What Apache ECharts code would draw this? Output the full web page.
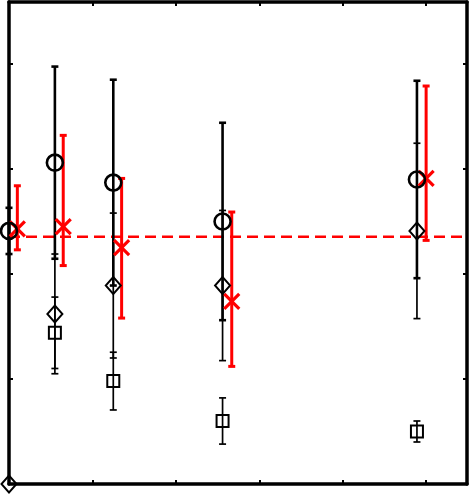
<!DOCTYPE html>
<html lang="en">
<head>
    <meta charset="UTF-8">
    <title>errorbar</title>
    <script src="https://cdn.jsdelivr.net/npm/echarts@6/dist/echarts.min.js"></script>
    <style>
        html, body { margin: 0; padding: 0; background: #fff; }
        #main { width: 470px; height: 494px; }
    </style>
</head>
<body>
<div id="main"></div>
<script>
    // x positions of the black and red groups
    var xBlack = [0, 0.55, 1.25, 2.56, 4.89];
    var xRed = [0.1, 0.65, 1.35, 2.67, 5.0];

    // circles with symmetric error
    var circleY = [2.41, 3.06, 2.87, 2.50, 2.90];
    var circleErr = [0.22, 0.915, 0.98, 0.94, 0.94];

    // diamonds
    var diamondY = [0, 1.62, 1.89, 1.89, 2.41];
    var diamondErr = [0, 0.57, 0.69, 0.715, 0.835];

    // squares (first one is off the chart)
    var squareY = [null, 1.44, 0.98, 0.60, 0.50];
    var squareErr = [null, 0.34, 0.275, 0.22, 0.10];

    // red crosses with asymmetric error
    var redY = [2.43, 2.45, 2.25, 1.74, 2.91];
    var redLow = [2.23, 2.08, 1.58, 1.12, 2.32];
    var redHigh = [2.84, 3.32, 2.91, 2.59, 3.79];

    var refLevel = 2.355;

    function pts(xs, ys) {
        var out = [];
        for (var i = 0; i < xs.length; i++) {
            if (ys[i] != null) out.push([xs[i], ys[i]]);
        }
        return out;
    }

    function errData(xs, ys, err) {
        var out = [];
        for (var i = 0; i < xs.length; i++) {
            if (ys[i] == null || !err[i]) continue;
            out.push([xs[i], ys[i] - err[i], ys[i] + err[i]]);
        }
        return out;
    }

    function errSeries(data, color, width, capHalf) {
        return {
            type: 'custom',
            clip: false,
            silent: true,
            data: data,
            encode: { x: 0, y: [1, 2] },
            renderItem: function (params, api) {
                var x = api.value(0);
                var lo = api.coord([x, api.value(1)]);
                var hi = api.coord([x, api.value(2)]);
                var st = { stroke: color, lineWidth: width };
                return {
                    type: 'group',
                    children: [
                        { type: 'line', shape: { x1: lo[0], y1: lo[1], x2: hi[0], y2: hi[1] }, style: st },
                        { type: 'line', shape: { x1: lo[0] - capHalf, y1: lo[1], x2: lo[0] + capHalf, y2: lo[1] }, style: st },
                        { type: 'line', shape: { x1: hi[0] - capHalf, y1: hi[1], x2: hi[0] + capHalf, y2: hi[1] }, style: st }
                    ]
                };
            }
        };
    }

    function markerSeries(data, symbol, size, width) {
        return {
            type: 'scatter',
            clip: false,
            silent: true,
            symbol: symbol,
            symbolSize: size,
            data: data,
            itemStyle: { color: 'transparent', borderColor: '#000', borderWidth: width, opacity: 1 }
        };
    }

    var redErr = [];
    for (var i = 0; i < xRed.length; i++) redErr.push([xRed[i], redLow[i], redHigh[i]]);

    var myChart = echarts.init(document.getElementById('main'));

    var axisCommon = {
        type: 'value',
        axisLabel: { show: false },
        splitLine: { show: false },
        axisLine: { show: true, onZero: false, lineStyle: { color: '#000', width: 3.5 } },
        axisTick: { show: true, inside: true, length: 4, lineStyle: { color: '#000', width: 2 } }
    };

    var option = {
        animation: false,
        backgroundColor: '#fff',
        grid: { left: 9, right: 3, top: 2, bottom: 10 },
        xAxis: [
            Object.assign({}, axisCommon, { min: 0, max: 5.49, interval: 1, position: 'bottom' }),
            Object.assign({}, axisCommon, { min: 0, max: 5.49, interval: 1, position: 'top' })
        ],
        yAxis: [
            Object.assign({}, axisCommon, { min: 0, max: 4.59, interval: 1, position: 'left' }),
            Object.assign({}, axisCommon, { min: 0, max: 4.59, interval: 1, position: 'right' })
        ],
        series: [
            {
                type: 'line',
                silent: true,
                symbol: 'none',
                data: [[0, refLevel], [5.49, refLevel]],
                lineStyle: { color: '#f00', width: 2.5, type: [11, 6] },
                z: 1
            },
            errSeries(errData(xBlack, circleY, circleErr), '#000', 2.6, 3.5),
            errSeries(errData(xBlack, diamondY, diamondErr), '#000', 1.7, 3.5),
            errSeries(errData(xBlack, squareY, squareErr), '#000', 1.7, 3.5),
            markerSeries(pts(xBlack, circleY), 'circle', 16, 2.6),
            markerSeries(pts(xBlack, diamondY), 'diamond', [15, 17], 2),
            markerSeries(pts(xBlack, squareY), 'rect', 12, 2),
            errSeries(redErr, '#f00', 3, 3.5),
            {
                type: 'custom',
                clip: false,
                silent: true,
                data: pts(xRed, redY),
                renderItem: function (params, api) {
                    var p = api.coord([api.value(0), api.value(1)]);
                    var h = 7.5;
                    var st = { stroke: '#f00', lineWidth: 3.2 };
                    return {
                        type: 'group',
                        children: [
                            { type: 'line', shape: { x1: p[0] - h, y1: p[1] - h, x2: p[0] + h, y2: p[1] + h }, style: st },
                            { type: 'line', shape: { x1: p[0] - h, y1: p[1] + h, x2: p[0] + h, y2: p[1] - h }, style: st }
                        ]
                    };
                }
            }
        ]
    };

    myChart.setOption(option);
</script>
</body>
</html>
